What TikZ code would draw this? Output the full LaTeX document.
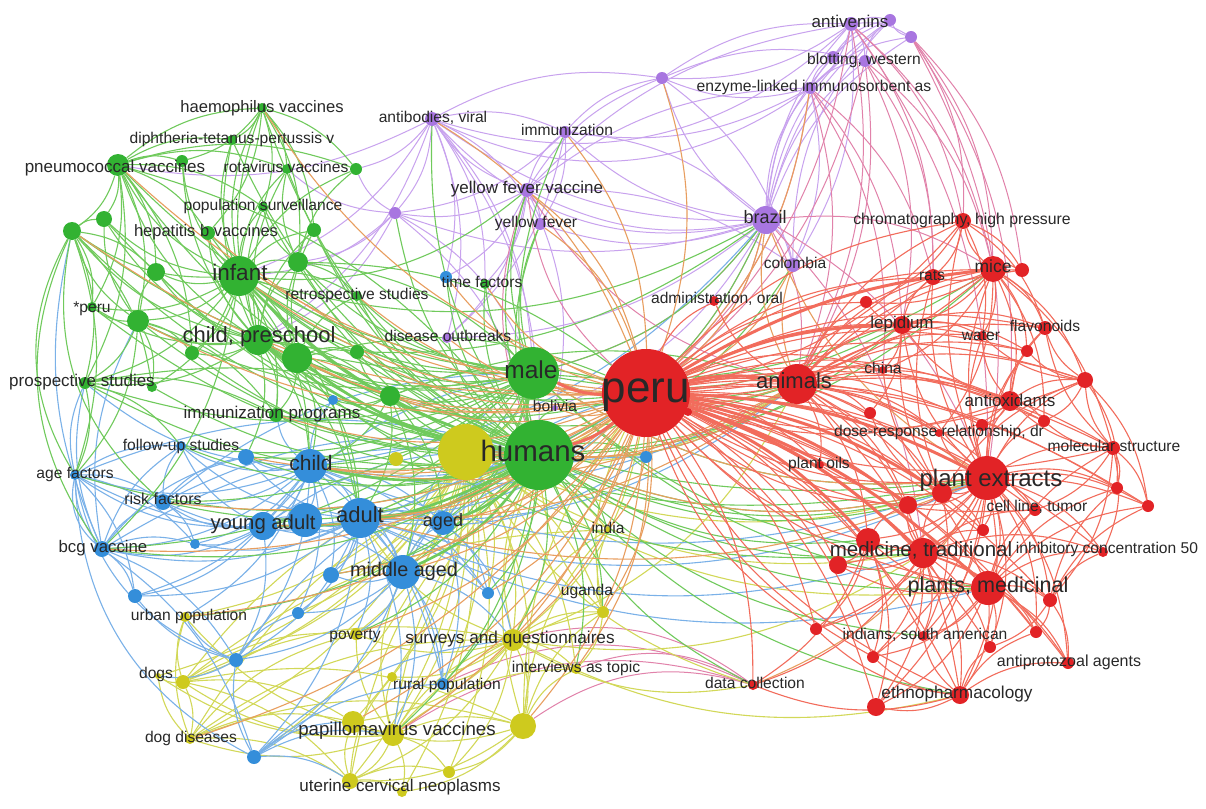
\documentclass[tikz,border=0pt]{standalone}
\usepackage{fontspec}
\setmainfont{Liberation Sans}
\pgfdeclarelayer{bg}\pgfdeclarelayer{fg}\pgfsetlayers{bg,main,fg}
\definecolor{redN}{RGB}{226,35,38}
\definecolor{grnN}{RGB}{50,178,50}
\definecolor{bluN}{RGB}{52,142,218}
\definecolor{yelN}{RGB}{206,202,30}
\definecolor{purN}{RGB}{168,118,224}
\definecolor{redE}{RGB}{242,108,92}
\definecolor{oraE}{RGB}{232,158,95}
\definecolor{grnE}{RGB}{112,202,92}
\definecolor{bluE}{RGB}{122,177,232}
\definecolor{yelE}{RGB}{210,216,88}
\definecolor{purE}{RGB}{200,162,238}
\definecolor{pinkE}{RGB}{225,130,170}
\definecolor{labC}{RGB}{40,40,40}
\tikzset{
 vnode/.style={circle,inner sep=0pt},
 rn/.style={vnode,fill=redN}, gn/.style={vnode,fill=grnN}, bn/.style={vnode,fill=bluN},
 yn/.style={vnode,fill=yelN}, pn/.style={vnode,fill=purN},
 lbl/.style={inner sep=0pt,text=labC,anchor=base},
 eR/.style={draw=redE,line width=1.1pt}, eRb/.style={draw=redE,line width=3pt},
 eO/.style={draw=oraE,line width=1.1pt}, eG/.style={draw=grnE,line width=1.1pt},
 eGb/.style={draw=grnE,line width=2.6pt}, eB/.style={draw=bluE,line width=1.1pt},
 eY/.style={draw=yelE,line width=1.1pt}, eP/.style={draw=purE,line width=1pt},
 eK/.style={draw=pinkE,line width=1pt}
}
\newcommand\vn[5]{\node[#5,minimum size=#4pt] (#1) at (#2,#3) {};}
\newcommand\vl[5]{\node[lbl,font={\fontsize{#4}{#4}\selectfont}] (l#1) at ({#2},{#3+0.21*#4}) {#5};}
\newcommand\fan[4]{\foreach \tg in {#4} {\draw[#1] (#2) to[bend left=#3] (\tg);}}
\begin{document}
\begin{tikzpicture}[x=1pt,y=-1pt]
\useasboundingbox (0,0) rectangle (1206,808);
% ---------- red nodes
\vn{peru}{646}{393}{88}{rn}
\vn{animals}{797}{384}{40}{rn}
\vn{plantext}{987}{478}{44}{rn}
\vn{medtrad}{923}{553}{30}{rn}
\vn{rmtb}{868}{540}{24}{rn}
\vn{rmtc}{838}{565}{18}{rn}
\vn{plantmed}{988}{588}{34}{rn}
\vn{ethno}{960}{695}{18}{rn}
\vn{rethb}{876}{707}{18}{rn}
\vn{antiproto}{1068}{663}{12}{rn}
\vn{indians}{923}{636}{10}{rn}
\vn{datacoll}{753}{685}{10}{rn}
\vn{icfifty}{1103}{552}{10}{rn}
\vn{cellline}{1035}{510}{12}{rn}
\vn{molstruct}{1113}{448}{14}{rn}
\vn{antiox}{1010}{401}{20}{rn}
\vn{doseresp}{939}{433}{8}{rn}
\vn{plantoils}{820}{465}{8}{rn}
\vn{china}{883}{370}{8}{rn}
\vn{lepidium}{902}{325}{18}{rn}
\vn{water}{982}{336}{10}{rn}
\vn{flavo}{1045}{328}{14}{rn}
\vn{rats}{933}{277}{16}{rn}
\vn{mice}{993}{269}{26}{rn}
\vn{chroma}{963}{221}{16}{rn}
\vn{adminoral}{714}{301}{10}{rn}
\vn{r1}{1085}{380}{16}{rn}
\vn{r2}{1027}{351}{12}{rn}
\vn{r3}{866}{302}{12}{rn}
\vn{r4}{870}{413}{12}{rn}
\vn{r5}{1044}{421}{12}{rn}
\vn{r6}{1117}{488}{12}{rn}
\vn{r7}{1148}{506}{12}{rn}
\vn{r8}{908}{505}{18}{rn}
\vn{r9}{942}{493}{20}{rn}
\vn{r10}{983}{530}{12}{rn}
\vn{r11}{1050}{600}{14}{rn}
\vn{r12}{1036}{632}{12}{rn}
\vn{r13}{990}{647}{12}{rn}
\vn{r14}{873}{657}{12}{rn}
\vn{r15}{816}{629}{12}{rn}
\vn{r16}{1022}{270}{14}{rn}
\vn{r17}{688}{412}{8}{rn}
\vn{r18}{982}{425}{12}{rn}
% ---------- green nodes
\vn{humans}{539}{455}{70}{gn}
\vn{male}{533}{373}{52}{gn}
\vn{infant}{239}{276}{40}{gn}
\vn{childpre}{258}{340}{30}{gn}
\vn{g1}{297}{358}{30}{gn}
\vn{haemo}{262}{108}{10}{gn}
\vn{dtp}{232}{140}{10}{gn}
\vn{pneumo}{118}{165}{22}{gn}
\vn{g2}{182}{161}{12}{gn}
\vn{rota}{287}{169}{10}{gn}
\vn{g3}{356}{169}{12}{gn}
\vn{popsurv}{263}{207}{10}{gn}
\vn{hepb}{208}{233}{14}{gn}
\vn{g4}{72}{231}{18}{gn}
\vn{g5}{104}{219}{16}{gn}
\vn{g6}{156}{272}{18}{gn}
\vn{g7}{298}{262}{20}{gn}
\vn{g8}{314}{230}{14}{gn}
\vn{retro}{357}{296}{10}{gn}
\vn{speru}{92}{307}{10}{gn}
\vn{g9}{138}{321}{22}{gn}
\vn{prosp}{85}{383}{12}{gn}
\vn{g10}{152}{387}{10}{gn}
\vn{immprog}{276}{415}{14}{gn}
\vn{g11}{192}{353}{14}{gn}
\vn{g12}{357}{352}{14}{gn}
\vn{g13}{390}{396}{20}{gn}
\vn{timef}{485}{284}{10}{gn}
% ---------- blue nodes
\vn{child}{310}{466}{34}{bn}
\vn{adult}{360}{518}{40}{bn}
\vn{youngad}{263}{526}{28}{bn}
\vn{b1}{305}{520}{34}{bn}
\vn{aged}{443}{523}{24}{bn}
\vn{middle}{403}{572}{34}{bn}
\vn{followup}{181}{446}{10}{bn}
\vn{b2}{246}{457}{16}{bn}
\vn{agef}{75}{475}{10}{bn}
\vn{riskf}{163}{502}{16}{bn}
\vn{bcg}{102}{549}{16}{bn}
\vn{b3}{135}{596}{14}{bn}
\vn{b4}{298}{613}{12}{bn}
\vn{b5}{236}{660}{14}{bn}
\vn{b6}{254}{757}{14}{bn}
\vn{b7}{195}{544}{10}{bn}
\vn{b8}{331}{575}{16}{bn}
\vn{b9}{333}{400}{10}{bn}
\vn{b10}{488}{593}{12}{bn}
\vn{ruralpop}{443}{684}{12}{bn}
\vn{b11}{646}{457}{12}{bn}
\vn{b12}{446}{277}{12}{bn}
% ---------- yellow nodes
\vn{ybig}{466}{452}{56}{yn}
\vn{y1}{396}{459}{14}{yn}
\vn{urbanpop}{185}{617}{10}{yn}
\vn{dogs}{158}{676}{6}{yn}
\vn{y2}{183}{682}{14}{yn}
\vn{dogdis}{190}{739}{10}{yn}
\vn{poverty}{356}{634}{12}{yn}
\vn{surveys}{513}{640}{22}{yn}
\vn{interviews}{576}{669}{10}{yn}
\vn{uganda}{603}{612}{12}{yn}
\vn{india}{608}{530}{6}{yn}
\vn{papil}{393}{735}{22}{yn}
\vn{y3}{353}{722}{22}{yn}
\vn{uterine}{350}{781}{16}{yn}
\vn{y4}{402}{792}{10}{yn}
\vn{y5}{523}{726}{26}{yn}
\vn{y6}{449}{772}{12}{yn}
\vn{y7}{392}{677}{10}{yn}
% ---------- purple nodes
\vn{brazil}{766}{220}{28}{pn}
\vn{colombia}{793}{265}{14}{pn}
\vn{antiven}{851}{24}{14}{pn}
\vn{p1}{890}{20}{12}{pn}
\vn{p2}{911}{37}{12}{pn}
\vn{blota}{833}{57}{12}{pn}
\vn{blotting}{865}{61}{12}{pn}
\vn{elisa}{810}{88}{12}{pn}
\vn{p3}{662}{78}{12}{pn}
\vn{antibod}{432}{119}{14}{pn}
\vn{immuniz}{565}{132}{12}{pn}
\vn{yfv}{527}{190}{14}{pn}
\vn{yf}{540}{224}{12}{pn}
\vn{p4}{395}{213}{12}{pn}
\vn{disout}{447}{338}{10}{pn}
\vn{bolivia}{555}{408}{6}{pn}
% ================= edges
\begin{pgfonlayer}{bg}
\fill[white] (0,0) rectangle (1206,808);
% purple
\fan{eP}{brazil}{18}{colombia,antiven,blota,blotting,elisa,p1,p2,p3,yfv,yf,immuniz,antibod,p4,disout,bolivia}
\fan{eP}{yfv}{18}{yf,immuniz,antibod,p4,p3,disout,elisa,bolivia,colombia,timef,b12,antiven}
\fan{eP}{antiven}{18}{p1,p2,blota,blotting,elisa,p3,colombia}
\fan{eP}{elisa}{18}{blota,blotting,p1,p2,p3,colombia,immuniz}
\fan{eP}{p1}{-22}{p2,blota,blotting,colombia,brazil}
\fan{eP}{antibod}{18}{immuniz,p4,yf,p3,disout,b12,timef,humans,infant,childpre,male,pneumo,g3}
\fan{eP}{antibod}{-30}{brazil,elisa,antiven}
\fan{eP}{immuniz}{18}{yf,p3,p4,disout,brazil}
\fan{eP}{p3}{18}{antiven,blotting,colombia}
\fan{eP}{p4}{18}{infant,childpre,humans,male,g7,g3,rota}
\fan{eK}{antiven}{18}{mice,animals,peru,plantext,chroma,rats}
\fan{eK}{p2}{18}{mice,chroma,antiox,plantext,r16}
\fan{eK}{blotting}{18}{mice,rats,lepidium,animals,peru}
\fan{eK}{elisa}{18}{peru,animals,rats,lepidium,china}
\fan{eK}{brazil}{18}{peru,animals,plantext,medtrad,humans,male,mice}
\fan{eK}{datacoll}{-25}{surveys,interviews,papil,y5,ruralpop}
\fan{eK}{yfv}{-20}{peru,animals,humans}
% yellow
\fan{eY}{ybig}{18}{y1,urbanpop,dogs,y2,dogdis,poverty,surveys,interviews,uganda,india,papil,y3,uterine,y4,y5,y6,y7,ruralpop,middle,adult,child,aged,b8,b10,b4,b5,b6}
\fan{eY}{ybig}{-20}{peru,animals,plantext,medtrad,plantmed,datacoll,humans,male}
\fan{eY}{papil}{18}{y3,uterine,y4,y5,y6,y7,surveys,interviews,poverty,uganda,dogs,y2,dogdis,urbanpop,humans,middle}
\fan{eY}{surveys}{18}{y5,interviews,uganda,poverty,y7,y3,uterine,y6,india,ruralpop,humans,adult}
\fan{eY}{surveys}{-20}{peru,animals,medtrad,datacoll,ethno}
\fan{eY}{y2}{18}{dogs,dogdis,urbanpop,y3,uterine,y5,poverty,surveys,humans,india}
\fan{eY}{dogdis}{18}{dogs,urbanpop,y3,y5,poverty,surveys,uterine,humans}
\fan{eY}{y5}{18}{uterine,y4,y6,y3,uganda,interviews,india,humans,peru}
\fan{eY}{uterine}{18}{y3,y4,y6,y7,humans}
\fan{eY}{uganda}{18}{humans,india,interviews,peru}
% blue
\fan{eB}{child}{18}{adult,youngad,b1,aged,middle,followup,b2,agef,riskf,bcg,b3,b4,b5,b7,b8,b9,b10,ruralpop,prosp,immprog,urbanpop}
\fan{eB}{child}{-20}{peru,animals,plantext,brazil}
\fan{eB}{adult}{18}{youngad,b1,aged,middle,followup,b2,agef,riskf,bcg,b3,b4,b5,b6,b7,b8,b10,ruralpop,poverty,papil}
\fan{eB}{adult}{-20}{peru,animals,plantext,medtrad,plantmed,b11}
\fan{eB}{youngad}{18}{b1,middle,aged,riskf,bcg,b3,b5,b7,agef,followup,humans,male}
\fan{eB}{middle}{18}{aged,b8,b4,b10,ruralpop,b5,b6,surveys,poverty,papil,humans,male}
\fan{eB}{bcg}{18}{agef,riskf,followup,b2,b3,b5,b6,b7,prosp,g9,g4,humans}
\fan{eB}{agef}{18}{riskf,followup,prosp,b3,b7,humans}
\fan{eB}{agef}{-30}{b6,b5,bcg}
\fan{eB}{b6}{18}{b5,papil,y3,uterine,surveys,ruralpop}
\fan{eB}{b5}{18}{b3,b4,urbanpop,dogs,humans}
\fan{eB}{aged}{18}{b10,b11,ruralpop,surveys,peru}
\fan{eB}{riskf}{18}{humans,male,b2,followup,b7}
% green
\fan{eGb}{humans}{14}{male,infant,childpre,child,adult,youngad,middle,g1,aged}
\fan{eG}{humans}{18}{haemo,dtp,pneumo,rota,popsurv,hepb,retro,speru,g4,g5,g6,g7,g8,g9,g10,g11,g12,g13,prosp,immprog,timef,followup,agef,riskf,bcg,b2,b8,b9,b10,b11,b12,disout,bolivia,yfv,yf,antibod,immuniz,p4,ybig,y1,india,uganda,surveys,interviews,ruralpop,poverty,papil,urbanpop}
\fan{eG}{humans}{-18}{plantext,medtrad,plantmed,animals,brazil,ethno,indians,datacoll,mice,rmtb,lepidium,r8,r9,colombia}
\fan{eG}{male}{18}{infant,childpre,child,adult,youngad,middle,aged,g1,g7,g13,g12,retro,immprog,pneumo,hepb,g9,timef,yfv,yf,bcg,riskf,followup,prosp,g4,b2,ybig}
\fan{eG}{male}{-18}{animals,plantext,medtrad,brazil,mice,plantmed,lepidium}
\fan{eG}{infant}{18}{childpre,haemo,dtp,pneumo,rota,popsurv,hepb,retro,speru,g1,g2,g3,g4,g5,g6,g7,g8,g9,g10,g11,g12,prosp,immprog,child,adult,bcg}
\fan{eG}{infant}{-22}{peru,animals,plantext,brazil,yfv,g13}
\fan{eG}{childpre}{18}{haemo,dtp,pneumo,rota,popsurv,hepb,g1,g2,g4,g5,g6,g7,g8,g9,g11,g12,g13,immprog,prosp,speru,child,adult,b2}
\fan{eG}{childpre}{-22}{peru,animals,plantext,medtrad,brazil}
\fan{eG}{pneumo}{18}{haemo,dtp,g2,rota,g4,g5,g6,g9,hepb,popsurv,speru,prosp,g11,g3,humans}
\fan{eG}{haemo}{18}{dtp,rota,g3,hepb,g2,g7,popsurv,g8}
\fan{eG}{g9}{18}{g4,g5,g6,speru,prosp,g10,g11,immprog,agef}
\fan{eG}{g4}{18}{g5,g6,speru,prosp,g10,agef}
\fan{eG}{g4}{-30}{agef,bcg,riskf}
\fan{eG}{g1}{18}{g7,g8,g12,g13,immprog,retro,child,adult,peru}
\fan{eG}{g13}{18}{g12,immprog,child,adult,aged,middle,b9,peru,animals}
\fan{eG}{g7}{18}{g8,g3,rota,popsurv,retro,peru,male}
\fan{eG}{prosp}{18}{g10,immprog,followup,agef,humans}
% red
\fan{eO}{peru}{18}{infant,childpre,child,adult,youngad,middle,aged,ybig,surveys,interviews,uganda,india,papil,bolivia,g13,g12,g1,b10,b11,timef,disout,b12,pneumo,retro,immprog,y5,hepb,haemo,g4,g9,bcg,riskf,b2,b8,poverty,ruralpop,y3,dogdis,urbanpop}
\fan{eO}{peru}{-18}{brazil,colombia,yf,yfv,immuniz,antibod,elisa,p3}
\fan{eO}{animals}{18}{humans,male,brazil,colombia,ybig,child,adult}
\fan{eO}{plantext}{18}{humans,male,brazil,datacoll,adult}
\fan{eRb}{peru}{12}{humans,male,animals,plantext,medtrad,plantmed,r9,r8,mice,lepidium,rmtb}
\fan{eR}{peru}{18}{ethno,rethb,antiproto,indians,datacoll,icfifty,cellline,molstruct,antiox,doseresp,plantoils,china,water,flavo,rats,chroma,adminoral,r1,r2,r3,r4,r5,r6,r7,r10,r11,r12,r13,r14,r15,r16,r17,r18,rmtc}
\fan{eR}{peru}{-18}{plantext,medtrad,plantmed,ethno,rats,mice,antiox,r8,r14,r15,chroma,lepidium,r1,cellline,molstruct}
\fan{eR}{animals}{18}{rats,mice,lepidium,plantext,medtrad,plantmed,antiox,china,water,chroma,doseresp,plantoils,adminoral,r1,r2,r3,r4,r5,r8,r9,r16,flavo,ethno,rmtb,molstruct,cellline}
\fan{eR}{plantext}{18}{plantmed,medtrad,ethno,antiproto,indians,icfifty,cellline,molstruct,antiox,flavo,water,mice,rats,chroma,r1,r2,r5,r6,r7,r8,r9,r10,r11,r12,r13,rmtb,rmtc,lepidium,doseresp,r18,rethb,r14,r15}
\fan{eR}{medtrad}{18}{plantmed,ethno,indians,datacoll,antiproto,rethb,r11,r12,r13,r14,r15,r8,r9,r10,icfifty,cellline,rmtc}
\fan{eR}{plantmed}{18}{ethno,indians,antiproto,icfifty,r11,r12,r13,r14,rethb,r6,r7,cellline,molstruct,rmtb,rmtc}
\fan{eR}{mice}{18}{rats,chroma,lepidium,water,flavo,antiox,r1,r2,r16,r3,molstruct,r5,china,doseresp}
\fan{eR}{ethno}{18}{rethb,indians,antiproto,r13,r14,r15,datacoll,r12}
\fan{eR}{molstruct}{18}{r6,r7,icfifty,cellline,r5,antiox,flavo,r1,r11}
\fan{eR}{antiox}{18}{r1,r2,flavo,water,r5,doseresp,r18,lepidium}
\fan{eR}{rmtb}{18}{rmtc,r8,r15,r14,datacoll,rethb}
\fan{eR}{r9}{18}{r8,lepidium,rats,china,r4,plantoils,r10,indians,r1,r7}
\fan{eR}{lepidium}{18}{rats,r3,china,r4,water,r2,flavo}
\fan{eR}{r1}{18}{flavo,r2,r5,r6,r7,water}
\fan{eR}{r11}{18}{r12,r13,antiproto,icfifty,r6,r7}
\fan{eR}{chroma}{18}{rats,r3,r16,flavo,water}
\end{pgfonlayer}
% ================= labels
\begin{pgfonlayer}{fg}
\vl{peru}{646}{393}{44}{peru}
\vl{animals}{794}{384}{22}{animals}
\vl{plantext}{991}{481}{24}{plant extracts}
\vl{medtrad}{921}{552}{20.5}{medicine, traditional}
\vl{plantmed}{988}{588}{21.6}{plants, medicinal}
\vl{ethno}{957}{695}{17.2}{ethnopharmacology}
\vl{antiproto}{1069}{663}{16}{antiprotozoal agents}
\vl{indians}{925}{636}{15.6}{indians, south american}
\vl{datacoll}{755}{685}{15.6}{data collection}
\vl{icfifty}{1107}{550}{15.6}{inhibitory concentration 50}
\vl{cellline}{1037}{508}{15.6}{cell line, tumor}
\vl{molstruct}{1114}{448}{15.6}{molecular structure}
\vl{antiox}{1010}{403}{17}{antioxidants}
\vl{doseresp}{939}{433}{15.6}{dose-response relationship, dr}
\vl{plantoils}{819}{465}{15.6}{plant oils}
\vl{china}{883}{370}{15.6}{china}
\vl{lepidium}{902}{325}{17}{lepidium}
\vl{water}{981}{337}{15.6}{water}
\vl{flavo}{1045}{328}{15.6}{flavonoids}
\vl{rats}{932}{277}{15.6}{rats}
\vl{mice}{993}{269}{17.5}{mice}
\vl{chroma}{962}{221}{15.8}{chromatography, high pressure}
\vl{adminoral}{717}{300}{15.6}{administration, oral}
\vl{humans}{533}{455}{29.5}{humans}
\vl{male}{531}{373}{24.5}{male}
\vl{infant}{240}{276}{22.5}{infant}
\vl{childpre}{259}{338}{22}{child, preschool}
\vl{haemo}{262}{109}{16.6}{haemophilus vaccines}
\vl{dtp}{232}{140}{15.6}{diphtheria-tetanus-pertussis v}
\vl{pneumo}{115}{169}{17}{pneumococcal vaccines}
\vl{rota}{286}{169}{15.6}{rotavirus vaccines}
\vl{popsurv}{263}{207}{15.6}{population surveillance}
\vl{hepb}{206}{233}{16.5}{hepatitis b vaccines}
\vl{retro}{357}{296}{15.6}{retrospective studies}
\vl{speru}{92}{309}{15.6}{*peru}
\vl{prosp}{82}{383}{17}{prospective studies}
\vl{immprog}{272}{415}{17}{immunization programs}
\vl{timef}{482}{284}{15.6}{time factors}
\vl{child}{311}{466}{21}{child}
\vl{adult}{360}{518}{22}{adult}
\vl{youngad}{263}{525}{20.3}{young adult}
\vl{aged}{443}{523}{18}{aged}
\vl{middle}{404}{572}{19.8}{middle aged}
\vl{followup}{181}{447}{15.6}{follow-up studies}
\vl{agef}{75}{475}{15.6}{age factors}
\vl{riskf}{163}{501}{16}{risk factors}
\vl{bcg}{103}{549}{16.8}{bcg vaccine}
\vl{ruralpop}{447}{686}{15.6}{rural population}
\vl{urbanpop}{189}{617}{15.6}{urban population}
\vl{dogs}{156}{675}{15.6}{dogs}
\vl{dogdis}{191}{739}{15.6}{dog diseases}
\vl{poverty}{355}{636}{15.6}{poverty}
\vl{surveys}{510}{640}{17.2}{surveys and questionnaires}
\vl{interviews}{576}{669}{15.7}{interviews as topic}
\vl{uganda}{587}{592}{15.6}{uganda}
\vl{india}{608}{530}{15.6}{india}
\vl{papil}{397}{732}{18.7}{papillomavirus vaccines}
\vl{uterine}{400}{788}{17}{uterine cervical neoplasms}
\vl{brazil}{765}{220}{18}{brazil}
\vl{colombia}{795}{265}{15.6}{colombia}
\vl{antiven}{850}{24}{17}{antivenins}
\vl{blotting}{864}{61}{15.6}{blotting, western}
\vl{elisa}{814}{88}{15.7}{enzyme-linked immunosorbent as}
\vl{antibod}{433}{119}{15.6}{antibodies, viral}
\vl{immuniz}{567}{132}{15.6}{immunization}
\vl{yfv}{527}{190}{17}{yellow fever vaccine}
\vl{yf}{536}{224}{15.6}{yellow fever}
\vl{disout}{448}{338}{15.6}{disease outbreaks}
\vl{bolivia}{555}{408}{15.6}{bolivia}
\end{pgfonlayer}
\end{tikzpicture}
\end{document}
